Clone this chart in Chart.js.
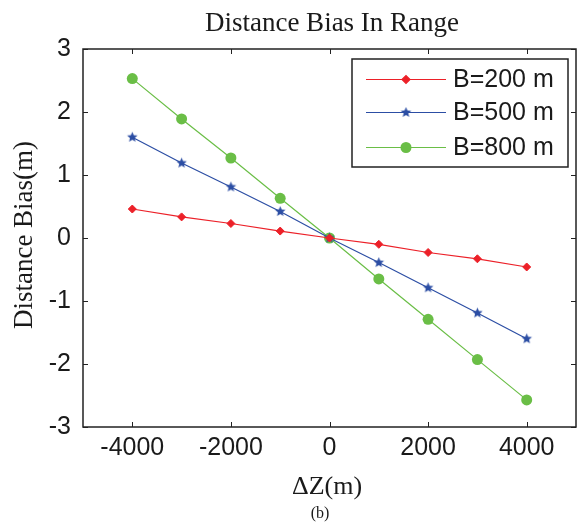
<!DOCTYPE html>
<html>
<head>
<meta charset="utf-8">
<script src="https://cdn.jsdelivr.net/npm/chart.js@4/dist/chart.umd.min.js"></script>
<style>
html,body{margin:0;padding:0;background:#fff;}
#wrap{width:577px;height:526px;}
</style>
</head>
<body>
<div id="wrap"><canvas id="c" width="577" height="526"></canvas></div>
<script>
const chartTitle = 'Distance Bias In Range';
const xAxisTitle = 'ΔZ(m)';
const yAxisTitle = 'Distance Bias(m)';
const subCaption = '(b)';
const deltaZ = [-4000, -3000, -2000, -1000, 0, 1000, 2000, 3000, 4000];
const seriesNames = ['B=200 m', 'B=500 m', 'B=800 m'];
const biasB200 = [0.46, 0.335, 0.23, 0.11, 0, -0.10, -0.23, -0.33, -0.46];
const biasB500 = [1.60, 1.19, 0.81, 0.42, 0, -0.39, -0.79, -1.19, -1.60];
const biasB800 = [2.53, 1.89, 1.27, 0.63, 0, -0.65, -1.29, -1.93, -2.57];
const xTickValues = [-4000, -2000, 0, 2000, 4000];
const yTickValues = [-3, -2, -1, 0, 1, 2, 3];

const RED = 'rgb(236,32,40)';
const BLUE = 'rgb(44,78,164)';
const GREEN = 'rgb(106,190,70)';

function starCanvas(color, r) {
  const s = Math.ceil(r * 2 + 2);
  const cv = document.createElement('canvas');
  cv.width = s; cv.height = s;
  const g = cv.getContext('2d');
  const cx = s / 2, cy = s / 2;
  g.beginPath();
  for (let i = 0; i < 10; i++) {
    const rr = i % 2 === 0 ? r : r * 0.45;
    const a = -Math.PI / 2 + i * Math.PI / 5;
    const px = cx + rr * Math.cos(a), py = cy + rr * Math.sin(a);
    if (i === 0) g.moveTo(px, py); else g.lineTo(px, py);
  }
  g.closePath();
  g.fillStyle = color;
  g.fill();
  return cv;
}
const starImg = starCanvas(BLUE, 5.5);

function pts(ys) { return deltaZ.map((x, i) => ({x: x, y: ys[i]})); }

const datasets = [
  {label: seriesNames[0], data: pts(biasB200), borderColor: RED, backgroundColor: RED,
   borderWidth: 1.2, pointStyle: 'rectRot', pointRadius: 4, pointBorderWidth: 1},
  {label: seriesNames[1], data: pts(biasB500), borderColor: BLUE, backgroundColor: BLUE,
   borderWidth: 1.2, pointStyle: starImg, pointRadius: 5},
  {label: seriesNames[2], data: pts(biasB800), borderColor: GREEN, backgroundColor: GREEN,
   borderWidth: 1.2, pointStyle: 'circle', pointRadius: 5.5, pointBorderWidth: 0}
];

const serif = '"Liberation Serif", "Times New Roman", serif';
const sans = '"Liberation Sans", Arial, sans-serif';

const decorPlugin = {
  id: 'decor',
  afterDraw(chart) {
    const ctx = chart.ctx;
    const a = chart.chartArea;
    const xs = chart.scales.x, ys = chart.scales.y;
    ctx.save();
    // frame
    ctx.strokeStyle = '#222';
    ctx.lineWidth = 1.5;
    ctx.strokeRect(a.left, a.top, a.right - a.left, a.bottom - a.top);
    // inward ticks
    ctx.lineWidth = 1;
    const tl = 5;
    ctx.beginPath();
    xTickValues.forEach(v => {
      const px = Math.round(xs.getPixelForValue(v)) + 0.5;
      ctx.moveTo(px, a.bottom); ctx.lineTo(px, a.bottom - tl);
      ctx.moveTo(px, a.top); ctx.lineTo(px, a.top + tl);
    });
    yTickValues.forEach(v => {
      const py = Math.round(ys.getPixelForValue(v)) + 0.5;
      ctx.moveTo(a.left, py); ctx.lineTo(a.left + tl, py);
      ctx.moveTo(a.right, py); ctx.lineTo(a.right - tl, py);
    });
    ctx.stroke();

    // legend
    const L = {x0: 352, y0: 59, x1: 568, y1: 167};
    ctx.fillStyle = '#fff';
    ctx.fillRect(L.x0, L.y0, L.x1 - L.x0, L.y1 - L.y0);
    ctx.strokeStyle = '#222';
    ctx.lineWidth = 1.5;
    ctx.strokeRect(L.x0, L.y0, L.x1 - L.x0, L.y1 - L.y0);
    const rows = [79, 112, 147];
    chart.data.datasets.forEach((ds, i) => {
      const y = rows[i];
      ctx.strokeStyle = ds.borderColor;
      ctx.lineWidth = ds.borderWidth;
      ctx.beginPath();
      ctx.moveTo(366, y + 0.5); ctx.lineTo(446, y + 0.5);
      ctx.stroke();
      ctx.fillStyle = ds.backgroundColor;
      Chart.helpers.drawPoint(ctx, {pointStyle: ds.pointStyle, radius: ds.pointRadius, borderWidth: ds.pointBorderWidth || 0, rotation: 0}, 406, y + 0.5);
      ctx.fillStyle = '#1a1a1a';
      ctx.font = '25px ' + sans;
      ctx.textAlign = 'left';
      ctx.textBaseline = 'middle';
      ctx.fillText(ds.label, 453, y + 1);
    });

    // titles
    ctx.fillStyle = '#1a1a1a';
    ctx.textAlign = 'center';
    ctx.textBaseline = 'alphabetic';
    ctx.font = '27px ' + serif;
    ctx.fillText(chartTitle, 332, 31);
    ctx.textBaseline = 'middle';
    ctx.font = '26px ' + serif;
    ctx.fillText(xAxisTitle, 327, 487);
    ctx.font = '16px ' + serif;
    ctx.fillText(subCaption, 320, 514);
    ctx.save();
    ctx.translate(32, 235);
    ctx.rotate(-Math.PI / 2);
    ctx.textBaseline = 'alphabetic';
    ctx.font = '27px ' + serif;
    ctx.fillText(yAxisTitle, 0, 0);
    ctx.restore();
    ctx.restore();
  }
};

new Chart(document.getElementById('c'), {
  type: 'line',
  data: {datasets: datasets},
  options: {
    responsive: false,
    animation: false,
    devicePixelRatio: 1,
    layout: {autoPadding: false, padding: {top: 49, right: 1, left: 0, bottom: 0}},
    plugins: {legend: {display: false}, tooltip: {enabled: false}, title: {display: false}},
    scales: {
      x: {
        type: 'linear', min: -5000, max: 5000,
        grid: {display: false, drawTicks: false},
        border: {display: false},
        afterBuildTicks: s => { s.ticks = xTickValues.map(v => ({value: v})); },
        afterFit: s => { s.height = 99; s.paddingLeft = 0; s.paddingRight = 0; },
        ticks: {padding: 6, maxRotation: 0, autoSkip: false, color: '#1a1a1a',
                font: {family: sans, size: 25}, callback: v => String(v)}
      },
      y: {
        type: 'linear', min: -3, max: 3,
        grid: {display: false, drawTicks: false},
        border: {display: false},
        afterBuildTicks: s => { s.ticks = yTickValues.map(v => ({value: v})); },
        afterFit: s => { s.width = 83; s.paddingTop = 0; s.paddingBottom = 0; },
        ticks: {padding: 12, color: '#1a1a1a', font: {family: sans, size: 25}, callback: v => String(v)}
      }
    }
  },
  plugins: [decorPlugin]
});
</script>
</body>
</html>
